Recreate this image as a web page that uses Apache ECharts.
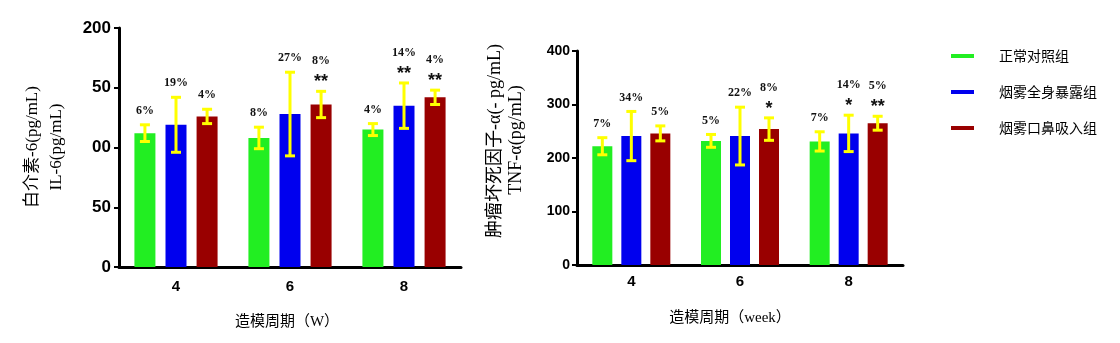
<!DOCTYPE html>
<html><head><meta charset="utf-8">
<script src="https://cdn.jsdelivr.net/npm/echarts@6/dist/echarts.min.js"></script>
<style>html,body{margin:0;padding:0;background:#fff}#c{width:1120px;height:343px}</style>
</head><body><div id="c"></div>
<script>
const categories = ['4', '6', '8'];
const groupNames = ['正常对照组', '烟雾全身暴露组', '烟雾口鼻吸入组'];
const il6TickLabels = ['0', '50', '00', '50', '200'];
const tnfTickLabels = ['0', '100', '200', '300', '400'];

const il6Control = [112, 108, 115];
const il6ControlErr = [7, 9, 5];
const il6Whole = [119, 128, 135];
const il6WholeErr = [23, 35, 19];
const il6Nasal = [126, 136, 142];
const il6NasalErr = [6, 11, 6];

const tnfControl = [222, 232, 231];
const tnfControlErr = [16, 12, 18];
const tnfWhole = [241, 241, 246];
const tnfWholeErr = [46, 54, 34];
const tnfNasal = [246, 254, 265];
const tnfNasalErr = [14, 21, 13];

const il6ControlPct = ['6%', '8%', '4%'];
const il6WholePct = ['19%', '27%', '14%'];
const il6NasalPct = ['4%', '8%', '4%'];
const il6ControlSig = ['', '', ''];
const il6WholeSig = ['', '', '**'];
const il6NasalSig = ['', '**', '**'];

const tnfControlPct = ['7%', '5%', '7%'];
const tnfWholePct = ['34%', '22%', '14%'];
const tnfNasalPct = ['5%', '8%', '5%'];
const tnfControlSig = ['', '', ''];
const tnfWholeSig = ['', '', '*'];
const tnfNasalSig = ['', '*', '**'];

const colors = ['#22ee22', '#0000ee', '#990000'];
const errColor = '#ffff00';

const chart = echarts.init(document.getElementById('c'));

const panels = [
  { means: [il6Control, il6Whole, il6Nasal], errs: [il6ControlErr, il6WholeErr, il6NasalErr],
    pcts: [il6ControlPct, il6WholePct, il6NasalPct], sigs: [il6ControlSig, il6WholeSig, il6NasalSig],
    barWidth: 21, gapPct: 48 },
  { means: [tnfControl, tnfWhole, tnfNasal], errs: [tnfControlErr, tnfWholeErr, tnfNasalErr],
    pcts: [tnfControlPct, tnfWholePct, tnfNasalPct], sigs: [tnfControlSig, tnfWholeSig, tnfNasalSig],
    barWidth: 20, gapPct: 45 }
];

const series = [];
panels.forEach((p, pi) => {
  for (let k = 0; k < 3; k++) {
    series.push({
      type: 'bar', name: groupNames[k], xAxisIndex: pi, yAxisIndex: pi,
      data: p.means[k], barWidth: p.barWidth, barGap: p.gapPct + '%',
      itemStyle: { color: colors[k] }, z: 2
    });
  }
  for (let k = 0; k < 3; k++) {
    const step = p.barWidth * (1 + p.gapPct / 100);
    const offset = (k - 1) * step;
    const pcts = p.pcts[k], sigs = p.sigs[k];
    series.push({
      type: 'custom', xAxisIndex: pi, yAxisIndex: pi, z: 5, silent: true,
      data: categories.map((c, i) => [i, p.means[k][i], p.errs[k][i]]),
      renderItem: function (params, api) {
        const xi = api.value(0), m = api.value(1), e = api.value(2);
        const x = api.coord([xi, m])[0] + offset;
        const top = api.coord([xi, m + e])[1];
        const bot = api.coord([xi, m - e])[1];
        const ls = { stroke: errColor, lineWidth: 3 };
        const children = [
          { type: 'line', shape: { x1: x, y1: top, x2: x, y2: bot }, style: ls },
          { type: 'line', shape: { x1: x - 5, y1: top, x2: x + 5, y2: top }, style: ls },
          { type: 'line', shape: { x1: x - 5, y1: bot, x2: x + 5, y2: bot }, style: ls }
        ];
        const sig = sigs[params.dataIndex];
        const pct = pcts[params.dataIndex];
        let pctY = top - 14;
        if (sig) {
          children.push({ type: 'text', style: { x: x, y: top - 9, text: sig, align: 'center', verticalAlign: 'middle',
            font: 'bold 18px "Liberation Sans", Arial, sans-serif', fill: '#111' } });
          pctY = top - 30;
        }
        children.push({ type: 'text', style: { x: x, y: pctY, text: pct, align: 'center', verticalAlign: 'middle',
          font: 'bold 12px "Liberation Serif", "Times New Roman", serif', fill: '#111' } });
        return { type: 'group', children: children };
      }
    });
  }
});

const axisLine = { show: true, lineStyle: { color: '#000', width: 3 } };

chart.setOption({
  animation: false,
  backgroundColor: '#fff',
  legend: {
    data: groupNames, orient: 'vertical', left: 951, top: 49, padding: 0,
    icon: 'rect', itemWidth: 23, itemHeight: 4, itemGap: 22,
    textStyle: { fontFamily: '"Noto Sans CJK SC"', fontSize: 14, lineHeight: 14, color: '#000', padding: [0, 0, 0, 20] }
  },
  grid: [
    { left: 119, top: 28, width: 342, height: 239 },
    { left: 577, top: 51, width: 326, height: 214 }
  ],
  xAxis: [
    { type: 'category', gridIndex: 0, data: categories, axisLine: axisLine,
      axisTick: { alignWithLabel: true, length: 5, lineStyle: { width: 2, color: '#000' } },
      axisLabel: { margin: 12, color: '#000', fontWeight: 'bold', fontSize: 15, fontFamily: '"Liberation Sans", Arial' } },
    { type: 'category', gridIndex: 1, data: categories, axisLine: axisLine,
      axisTick: { alignWithLabel: true, length: 5, lineStyle: { width: 2, color: '#000' } },
      axisLabel: { margin: 9, color: '#000', fontWeight: 'bold', fontSize: 15, fontFamily: '"Liberation Sans", Arial' } }
  ],
  yAxis: [
    { type: 'value', gridIndex: 0, min: 0, max: 200, interval: 50, splitLine: { show: false }, axisLine: axisLine,
      axisTick: { show: true, length: 5, lineStyle: { width: 2, color: '#000' } },
      axisLabel: { margin: 8, color: '#000', fontWeight: 'bold', fontSize: 17, fontFamily: '"Liberation Sans", Arial',
        formatter: (v) => il6TickLabels[Math.round(v / 50)] } },
    { type: 'value', gridIndex: 1, min: 0, max: 400, interval: 100, splitLine: { show: false }, axisLine: axisLine,
      axisTick: { show: true, length: 5, lineStyle: { width: 2, color: '#000' } },
      axisLabel: { margin: 7, color: '#000', fontWeight: 'bold', fontSize: 14, fontFamily: '"Liberation Sans", Arial',
        formatter: (v) => tnfTickLabels[Math.round(v / 100)] } }
  ],
  graphic: [
    { type: 'text', x: 33, y: 147, rotation: Math.PI / 2,
      style: { text: '白介素-6(pg/mL)', align: 'center', verticalAlign: 'middle', fill: '#000',
        font: '17px "Liberation Serif", "Noto Sans CJK SC"' } },
    { type: 'text', x: 57, y: 147, rotation: Math.PI / 2,
      style: { text: 'IL-6(pg/mL)', align: 'center', verticalAlign: 'middle', fill: '#000',
        font: '17px "Liberation Serif", "Noto Sans CJK SC"' } },
    { type: 'text', x: 495, y: 141, rotation: Math.PI / 2,
      style: { text: '肿瘤坏死因子-α(- pg/mL)', align: 'center', verticalAlign: 'middle', fill: '#000',
        font: '18px "Liberation Serif", "Noto Sans CJK SC"' } },
    { type: 'text', x: 516, y: 140, rotation: Math.PI / 2,
      style: { text: 'TNF-α(pg/mL)', align: 'center', verticalAlign: 'middle', fill: '#000',
        font: '18px "Liberation Serif", "Noto Sans CJK SC"' } },
    { type: 'text', x: 287, y: 322,
      style: { text: '造模周期（W）', align: 'center', verticalAlign: 'middle', fill: '#000',
        font: '15px "Liberation Serif", "Noto Sans CJK SC"' } },
    { type: 'text', x: 730, y: 318,
      style: { text: '造模周期（week）', align: 'center', verticalAlign: 'middle', fill: '#000',
        font: '15px "Liberation Serif", "Noto Sans CJK SC"' } }
  ],
  series: series
});
</script></body></html>
